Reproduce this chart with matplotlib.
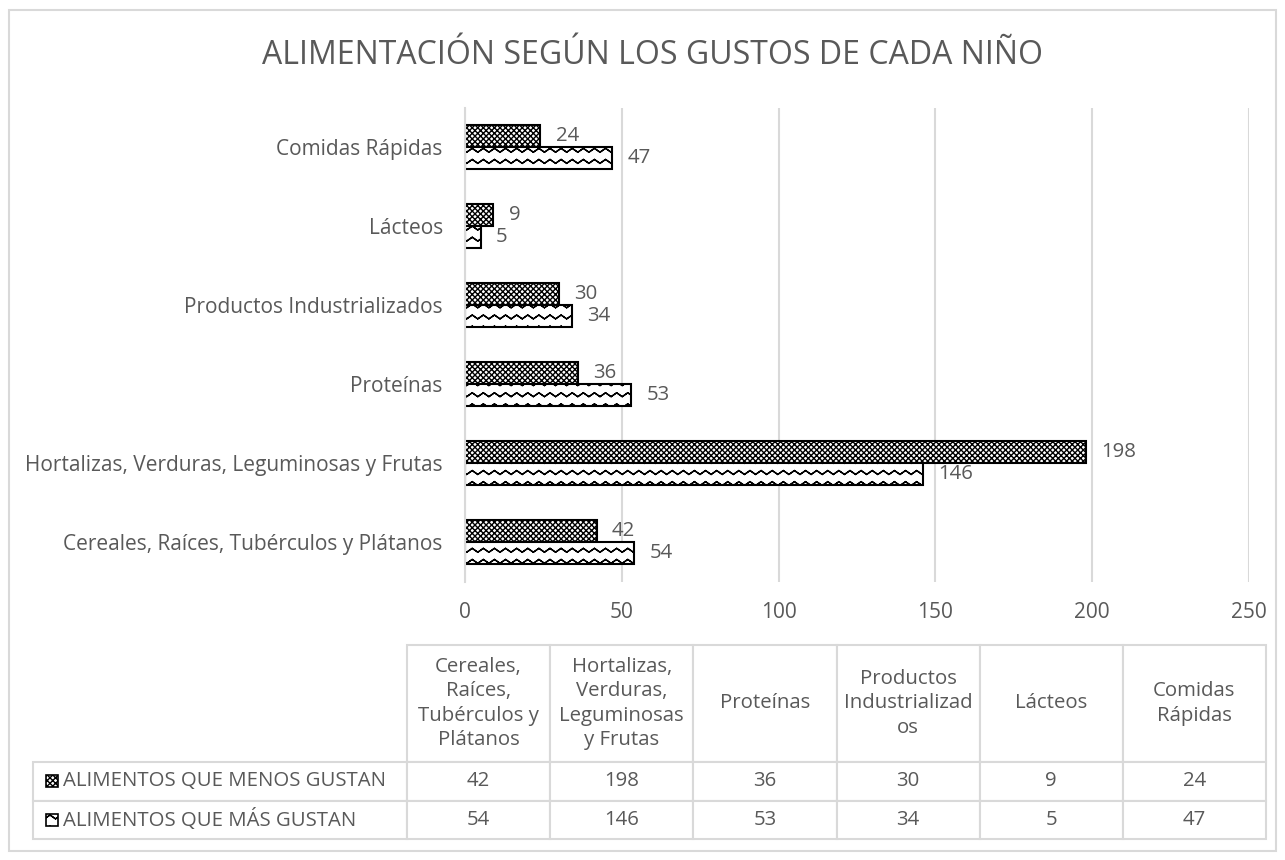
import matplotlib

matplotlib.use('agg')

from matplotlib import pyplot as plt
from matplotlib import hatch as mhatch
from matplotlib.path import Path
from matplotlib.patches import Rectangle

import numpy as np

categories = ["Cereales, Raíces, Tubérculos y Plátanos",
              "Hortalizas, Verduras, Leguminosas y Frutas",
              "Proteínas",
              "Productos Industrializados",
              "Lácteos",
              "Comidas Rápidas"]
table_headers = ["Cereales,\nRaíces,\nTubérculos y\nPlátanos",
                 "Hortalizas,\nVerduras,\nLeguminosas\ny Frutas",
                 "Proteínas",
                 "Productos\nIndustrializad\nos",
                 "Lácteos",
                 "Comidas\nRápidas"]
menos = [42, 198, 36, 30, 9, 24]
mas = [54, 146, 53, 34, 5, 47]
series_names = ["ALIMENTOS QUE MENOS GUSTAN", "ALIMENTOS QUE MÁS GUSTAN"]
xticks = [0, 50, 100, 150, 200, 250]

title = "ALIMENTACIÓN SEGÚN LOS GUSTOS DE CADA NIÑO"


# zigzag hatch, takes the place of the '|' hatch.
# each row goes out and back on itself so agg's fill of the hatch adds nothing
class ZigZagHatch(mhatch.HatchPatternBase):
    def __init__(self, hatch, density):
        self.num_rows = int(hatch.count('|') * density * 1.5)
        self.periods = 9
        self.n_out = 2 * self.periods + 1
        self.per_row = 2 * self.n_out - 1
        self.num_vertices = self.num_rows * self.per_row

    def set_vertices_and_codes(self, vertices, codes):
        if self.num_rows == 0:
            return
        step = 1.0 / self.num_rows
        amp = step * 0.35
        xs_out = np.linspace(0.0, 1.0, self.n_out)
        up = np.arange(self.n_out) % 2 == 1
        for r in range(self.num_rows):
            y0 = step * r + step * 0.3
            ys_out = np.where(up, y0 + amp, y0)
            xs_row = np.concatenate([xs_out, xs_out[-2::-1]])
            ys_row = np.concatenate([ys_out, ys_out[-2::-1]])
            sl = slice(r * self.per_row, (r + 1) * self.per_row)
            vertices[sl, 0] = xs_row
            vertices[sl, 1] = ys_row
            codes[sl] = Path.LINETO
            codes[r * self.per_row] = Path.MOVETO


mhatch._hatch_types = [h for h in mhatch._hatch_types if h is not mhatch.VerticalHatch]
mhatch._hatch_types.append(ZigZagHatch)

plt.rcParams['font.family'] = ['Open Sans', 'DejaVu Sans']
plt.rcParams['hatch.linewidth'] = 1.0
text_color = '#595959'
grid_color = '#D9D9D9'

W, H = 1285, 860
fig = plt.figure(figsize=(W / 100, H / 100), dpi=100)


def px_axes(left, top, right, bottom):
    return fig.add_axes([left / W, 1 - bottom / H, (right - left) / W, (bottom - top) / H])


# bar chart
ax = px_axes(465, 107.5, 1249, 581.5)

y = np.arange(len(categories))
bh = 0.28
bars_menos = ax.barh(y + bh / 2, menos, height=bh, color='white', edgecolor='black',
                     linewidth=1.5, hatch='xxxxxx')
bars_mas = ax.barh(y - bh / 2, mas, height=bh, color='white', edgecolor='black',
                   linewidth=1.5, hatch='|')

for bars, vals in [(bars_menos, menos), (bars_mas, mas)]:
    for b, v in zip(bars, vals):
        ax.annotate(str(v), (v, b.get_y() + b.get_height() / 2), xytext=(11, 0),
                    textcoords='offset points', va='center', ha='left',
                    fontsize=14.7, color=text_color)

ax.set_xlim(0, 250)
ax.set_ylim(-0.5, len(categories) - 0.5)
ax.set_xticks(xticks)
ax.set_yticks(y)
ax.set_yticklabels(categories)
ax.tick_params(axis='both', length=0, labelsize=15, labelcolor=text_color)
ax.tick_params(axis='y', pad=16)
ax.tick_params(axis='x', pad=15)
ax.xaxis.grid(True, color=grid_color, linewidth=1.5)
ax.set_axisbelow(True)
for s in ax.spines.values():
    s.set_visible(False)
ax.spines['left'].set_visible(True)
ax.spines['left'].set_color(grid_color)
ax.spines['left'].set_linewidth(1.5)

fig.text(652 / W, 1 - 55 / H, title, ha='center', va='center', fontsize=23, color=text_color)

# data table under the chart; the bbox covers the value grid, row labels sit to its left
g_left, g_right, g_top, g_bottom = 407, 1266, 645, 839
tax = px_axes(g_left, g_top, g_right, g_bottom)
tax.axis('off')

cell_text = [[str(v) for v in menos], [str(v) for v in mas]]
tab = tax.table(cellText=cell_text, rowLabels=series_names, colLabels=table_headers,
                cellLoc='center', rowLoc='left', bbox=[0, 0, 1, 1])
tab.auto_set_font_size(False)
tab.set_fontsize(14.7)
# sizes as fractions of the grid axes so the bbox scaling is 1
lab_px = g_left - 38
gw, gh = g_right - g_left, g_bottom - g_top
label_w, col_w = lab_px / gw, 1 / len(table_headers)
head_h = 117 / gh
row_h = (1 - head_h) / 2
for (r, c), cell in tab.get_celld().items():
    cell.set_edgecolor(grid_color)
    cell.set_linewidth(1.5)
    txt = cell.get_text()
    txt.set_color(text_color)
    txt.set_multialignment('center')
    txt.set_linespacing(1.3)
    cell.set_width(label_w if c == -1 else col_w)
    cell.set_height(head_h if r == 0 else row_h)
    if c == -1:
        cell.PAD = 29 / lab_px

# overlay in pixel coordinates for legend keys and border
oax = fig.add_axes([0, 0, 1, 1])
oax.set_xlim(0, W)
oax.set_ylim(H, 0)
oax.axis('off')

key_y = [781, 820]
for ky, hp in zip(key_y, ['xxxxxx', '|']):
    oax.add_patch(Rectangle((46, ky - 6), 12, 12, facecolor='white', edgecolor='black',
                            linewidth=1.2, hatch=hp))

oax.add_patch(Rectangle((9, 10), 1267, 841, fill=False, edgecolor=grid_color, linewidth=1.5))

plt.savefig("out.png", dpi=100)
